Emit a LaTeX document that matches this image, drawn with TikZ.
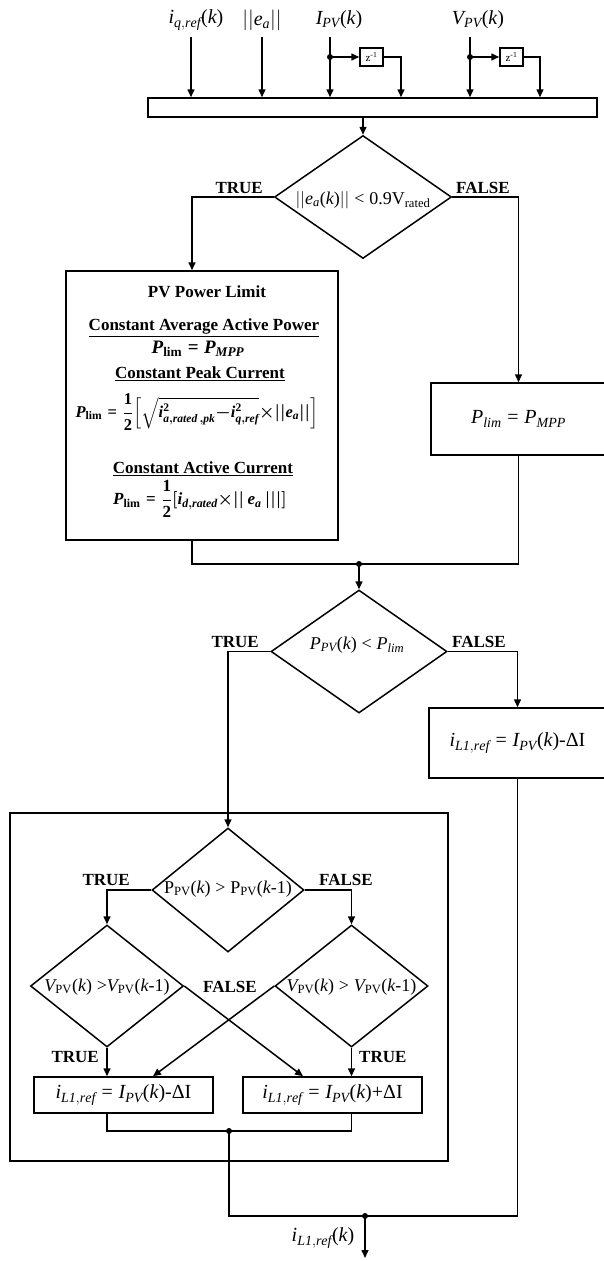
\documentclass[tikz,border=0pt]{standalone}
\usepackage{amsmath}
\usepackage{fontspec}
\setmainfont{Liberation Serif}
\usetikzlibrary{arrows.meta,shapes.geometric,calc}

% italic variable names and upright symbols, all in the text font
\newcommand\vv[1]{\mathit{#1}}
\newcommand\tx[1]{\text{#1}}
\newcommand\ofk{\text{(}\mathit{k}\text{)}}
\newcommand\ofkm{\text{(}\mathit{k}\text{-1)}}
\newcommand\req{\mathrel{\text{=}}}
\newcommand\rlt{\mathrel{\text{<}}}
\newcommand\rgt{\mathrel{\text{>}}}
\newcommand\fs[1]{\fontsize{#1}{#1}\selectfont}

\begin{document}
\begin{tikzpicture}[x=1pt, y=-1pt,
  wire/.style={line width=1.5pt},
  arr/.style={wire, -{Triangle[length=8pt,width=7pt]}},
  box/.style={draw, line width=1.5pt, inner sep=0pt},
  dia/.style={draw, diamond, line width=1.5pt, inner sep=0pt},
  tag/.style={font=\bfseries\fs{17}, inner sep=0pt},
  eq/.style={font=\fs{20}, inner sep=0pt},
  deq/.style={font=\fs{18}, inner sep=0pt},
  head/.style={font=\bfseries\fs{17}, inner sep=0pt},
  beq/.style={font=\bfseries\boldmath\fs{19}, inner sep=0pt},
  dot/.style={circle, fill, inner sep=0pt, minimum size=6pt},
]
\useasboundingbox (0,0) rectangle (604,1261);

% ---------- inputs ----------
\node[eq] (iq)  at (196,20) {$\vv{i}_{\vv{q,ref}}\ofk$};
\node[eq] (ea)  at (262,20) {$||\vv{e}_{\vv{a}}||$};
\node[eq] (ipv) at (339,20) {$\vv{I}_{\vv{PV}}\ofk$};
\node[eq] (vpv) at (478,20) {$\vv{V}_{\vv{PV}}\ofk$};

\node[box, minimum width=449pt, minimum height=19pt] (bar) at (372.5,107.5) {};
\node[box, minimum width=23pt, minimum height=18pt, font=\fs{11}] (z1) at (371.5,57) {z\textsuperscript{-1}};
\node[box, minimum width=23pt, minimum height=18pt, font=\fs{11}] (z2) at (511.5,57) {z\textsuperscript{-1}};
\node[dot] (j1) at (330,57) {};
\node[dot] (j2) at (470,57) {};

\coordinate (a1) at (191,37);
\coordinate (a2) at (262,37);
\coordinate (a3) at (330,37);
\coordinate (a4) at (470,37);
\coordinate (o1) at (401,57);
\coordinate (o2) at (540,57);

\draw[arr] (a1) -- (a1 |- bar.north);
\draw[arr] (a2) -- (a2 |- bar.north);
\draw[arr] (a3) -- (a3 |- bar.north);
\draw[arr] (a4) -- (a4 |- bar.north);
\draw[arr] (j1.center) -- (z1.west);
\draw[arr] (j2.center) -- (z2.west);
\draw[arr] (z1.east) -- (o1) -- (o1 |- bar.north);
\draw[arr] (z2.east) -- (o2) -- (o2 |- bar.north);

% ---------- voltage check ----------
\node[dia, minimum width=177pt, minimum height=123pt] (d1) at (363,197) {};
\node[deq] (d1t) at (363,200) {$||\vv{e}_{\vv{a}}\ofk|| \rlt \tx{0.9V}_{\mathrm{rated}}$};
\draw[arr] (bar.south -| d1.north) -- (d1.north);

\node[tag, anchor=south east] (t1) at (263,194) {TRUE};
\node[tag, anchor=south west] (f1) at (456,194) {FALSE};

% power limit options
\node[box, minimum width=272pt, minimum height=269pt] (pv) at (202,405.5) {};
\node[head] (pvt)  at (207,292) {PV Power Limit};
\node[head] (pvh1) at (204,328) {\underline{Constant Average Active Power}};
\node[beq]  (pve1) at (198,349) {$\vv{P}_{\mathrm{lim}} \req \vv{P}_{\vv{MPP}}$};
\node[head] (pvh2) at (200,374) {\underline{Constant Peak Current}};
\node[beq, font=\bfseries\boldmath\fs{16.5}]  (pve2) at (197,412) {$\vv{P}_{\mathrm{lim}} \req \dfrac{\tx{1}}{\tx{2}}\Big[\sqrt{\vv{i}^{\tx{2}}_{\vv{a,rated\,,pk}}{-}\vv{i}^{\tx{2}}_{\vv{q,ref}}}{\times}||\vv{e}_{\vv{a}}||\Big]$};
\node[head] (pvh3) at (203,469) {\underline{Constant Active Current}};
\node[beq, font=\bfseries\boldmath\fs{17}]  (pve3) at (200,499) {$\vv{P}_{\mathrm{lim}} \req \dfrac{\tx{1}}{\tx{2}}[\vv{i}_{\vv{d,rated}}{\times}||\,\vv{e}_{\vv{a}}\,|||]$};

\node[box, eq, minimum width=175pt, minimum height=72pt] (plim) at (518.5,419) {$\vv{P}_{\vv{lim}} \req \vv{P}_{\vv{MPP}}$};

\draw[arr] (d1.west) -| ([xshift=-10pt]pv.north);
\draw[arr] (d1.east) -| (plim.north);

\node[dot] (m1) at (359,564) {};
\draw[wire] ([xshift=-10pt]pv.south) |- (m1.center);
\draw[wire] (plim.south) |- (m1.center);

% ---------- power check ----------
\node[dia, minimum width=176pt, minimum height=123pt] (d2) at (359,651.5) {};
\node[deq] (d2t) at (357,645) {$\vv{P}_{\vv{PV}}\ofk \rlt \vv{P}_{\vv{lim}}$};
\draw[arr] (m1.center) -- (d2.north);

\node[tag, anchor=south east] (t2) at (259,648) {TRUE};
\node[tag, anchor=south west] (f2) at (452,648) {FALSE};

\node[box, eq, minimum width=177pt, minimum height=70pt] (rbox) at (517.5,743) {$\vv{i}_{\vv{L1,ref}} \req \vv{I}_{\vv{PV}}\ofk\tx{-ΔI}$};
\draw[arr] (d2.east) -| (rbox.north);

% ---------- perturb and observe ----------
\node[box, minimum width=438pt, minimum height=348pt] (frame) at (229,987) {};

\node[dia, minimum width=152pt, minimum height=124pt] (id1) at (228,890) {};
\node[deq] (id1t) at (228,889) {$\mathrm{P}_{\mathrm{PV}}\ofk \rgt \mathrm{P}_{\mathrm{PV}}\ofkm$};
\draw[arr] (d2.west) -| (id1.north);

\node[tag, anchor=south east] (t3) at (130,886) {TRUE};
\node[tag, anchor=south west] (f3) at (319,886) {FALSE};

\node[dia, minimum width=153pt, minimum height=122pt] (ld) at (107,986) {};
\node[deq] (ldt) at (107,987) {$\vv{V}_{\mathrm{PV}}\ofk\;\tx{>}\vv{V}_{\mathrm{PV}}\ofkm$};
\node[dia, minimum width=153pt, minimum height=122pt] (rd) at (351.5,986) {};
\node[deq] (rdt) at (351.5,987) {$\vv{V}_{\mathrm{PV}}\ofk \rgt \vv{V}_{\mathrm{PV}}\ofkm$};

\draw[arr] (id1.west) -| (ld.north);
\draw[arr] (id1.east) -| (rd.north);

\node[tag] (f4) at (230,987) {FALSE};
\node[tag, anchor=east] (t4) at (99,1057) {TRUE};
\node[tag, anchor=west] (t5) at (359,1057) {TRUE};

\node[box, eq, minimum width=179pt, minimum height=36pt] (lb) at (123.5,1095) {$\vv{i}_{\vv{L1,ref}} \req \vv{I}_{\vv{PV}}\ofk\tx{-ΔI}$};
\node[box, eq, minimum width=179pt, minimum height=36pt] (rb) at (332.5,1095) {$\vv{i}_{\vv{L1,ref}} \req \vv{I}_{\vv{PV}}\ofk\tx{+ΔI}$};

\draw[arr] (ld.south) -- (ld.south |- lb.north);
\draw[arr] (rd.south) -- (rd.south |- rb.north);
\draw[arr] (ld.east) -- ([xshift=-29.5pt]rb.north);
\draw[arr] (rd.west) -- ([xshift=29.5pt]lb.north);

\node[dot] (m2) at (229,1131) {};
\draw[wire] (lb.south -| ld.south) |- (m2.center);
\draw[wire] (rb.south -| rd.south) |- (m2.center);

% ---------- output ----------
\node[dot] (m3) at (365,1216) {};
\draw[wire] (m2.center) |- (m3.center);
\draw[wire] (rbox.south) |- (m3.center);
\coordinate (out) at (365,1258);
\draw[arr] (m3.center) -- (out);
\node[eq] (outl) at (323,1238) {$\vv{i}_{\vv{L1,ref}}\ofk$};

\end{tikzpicture}
\end{document}
